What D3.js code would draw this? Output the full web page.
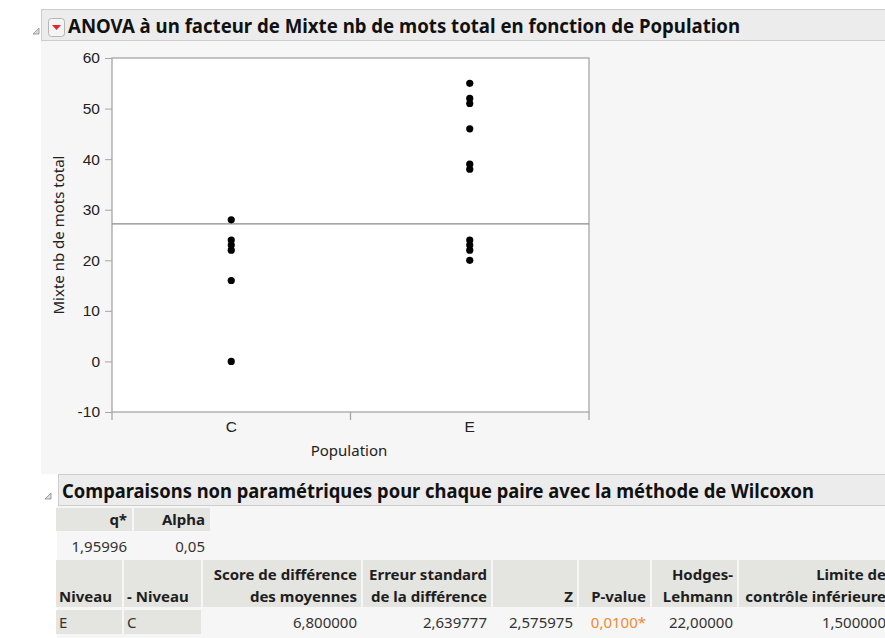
<!DOCTYPE html>
<html>
<head>
<meta charset="utf-8">
<script src="https://cdn.jsdelivr.net/npm/d3@7"></script>
<style>
  body { margin: 0; background: #fff; }
  svg { display: block; font-family: "Noto Sans", "Open Sans", sans-serif; }
</style>
</head>
<body>
<script>
// values
const categories = ['C', 'E']
const valuesC = [28, 24, 23, 22, 16, 0]
const valuesE = [55, 52, 51, 46, 39, 38, 24, 23, 22, 20]
const grandMean = 27.2
const yTicks = [-10, 0, 10, 20, 30, 40, 50, 60]

const title = 'ANOVA à un facteur de Mixte nb de mots total en fonction de Population'
const subTitle = 'Comparaisons non paramétriques pour chaque paire avec la méthode de Wilcoxon'
const yLabel = 'Mixte nb de mots total'
const xLabel = 'Population'

const qHeaders = ['q*', 'Alpha']
const qValues = ['1,95996', '0,05']
const compHeaders = [
    ['', 'Niveau'], ['', '- Niveau'], ['Score de différence', 'des moyennes'],
    ['Erreur standard', 'de la différence'], ['', 'Z'], ['', 'P-value'],
    ['Hodges-', 'Lehmann'], ['Limite de', 'contrôle inférieure']
]
const compRow = ['E', 'C', '6,800000', '2,639777', '2,575975', '0,0100*', '22,00000', '1,500000']

const width = 885
const height = 638

const svg = d3.select('body')
            .append('svg')
            .attr('width', width)
            .attr('height', height)

// grey content areas of the two outline boxes
svg.append('rect').attr('x', 41).attr('y', 40).attr('width', width - 41).attr('height', 434).attr('fill', '#f6f6f6')
svg.append('rect').attr('x', 57).attr('y', 505).attr('width', width - 57).attr('height', height - 505).attr('fill', '#f6f6f6')

function outlineHeader(x, y, triX, text, textX, textW, menu) {
    svg.append('rect')
        .attr('x', x + 0.5).attr('y', y + 0.5)
        .attr('width', width - x + 10).attr('height', 31)
        .attr('fill', '#ececec').attr('stroke', '#cdcdcd')
    // disclosure triangle
    const ty = y + 25
    svg.append('path')
        .attr('d', `M${triX + 6},${ty - 6} L${triX + 6},${ty} L${triX},${ty} Z`)
        .attr('fill', '#dcdcdc').attr('stroke', '#8c8c8c').attr('stroke-width', 0.8)
    if (menu) {
        svg.append('rect')
            .attr('x', x + 7.5).attr('y', y + 9.5).attr('width', 16).attr('height', 18).attr('rx', 3)
            .attr('fill', '#f4f4f4').attr('stroke', '#b5b5b5')
        svg.append('path')
            .attr('d', `M${x + 11},${y + 16} L${x + 20},${y + 16} L${x + 15.5},${y + 21} Z`)
            .attr('fill', '#e3262b')
    }
    svg.append('text')
        .attr('x', textX).attr('y', y + 24)
        .attr('font-size', 19).attr('font-weight', 'bold').attr('fill', '#111')
        .attr('textLength', textW).attr('lengthAdjust', 'spacingAndGlyphs')
        .text(text)
}

outlineHeader(41, 9, 33, title, 68, 672, true)
outlineHeader(58, 474, 45, subTitle, 62, 752, false)

// ---- one-way plot ----
const xScale = d3.scaleBand()
                .domain(categories)
                .range([112, 589])

const yScale = d3.scaleLinear()
                .domain([-10, 60])
                .range([412, 58])

svg.append('rect')
    .attr('x', 112).attr('y', 58)
    .attr('width', 477).attr('height', 354)
    .attr('fill', '#fff').attr('stroke', '#a6a6a6').attr('stroke-width', 1.3)

const yAxis = d3.axisLeft()
                .scale(yScale)
                .tickValues(yTicks)
                .tickFormat((d) => String(d))
                .tickSize(7)
                .tickPadding(5)

const gy = svg.append('g')
    .attr('transform', 'translate(112, 0)')
    .call(yAxis)
gy.select('.domain').remove()
gy.selectAll('.tick line').attr('stroke', '#a6a6a6')
gy.selectAll('.tick text').attr('font-size', 15.5).attr('fill', '#222').attr('font-family', null)

// x ticks sit on the category boundaries
const bounds = categories.map((c) => xScale(c)).concat(xScale.range()[1])
svg.append('g').selectAll('line')
    .data(bounds)
    .join('line')
    .attr('x1', (d) => d).attr('x2', (d) => d)
    .attr('y1', 412).attr('y2', 420)
    .attr('stroke', '#a6a6a6').attr('stroke-width', 1.3)

const xAxis = d3.axisBottom()
                .scale(xScale)
                .tickSize(0)
                .tickPadding(9)

const gx = svg.append('g')
    .attr('transform', 'translate(0, 412)')
    .call(xAxis)
gx.select('.domain').remove()
gx.selectAll('.tick text').attr('font-size', 15.5).attr('fill', '#222').attr('font-family', null)

svg.append('text')
    .attr('x', 349).attr('y', 456)
    .attr('text-anchor', 'middle')
    .attr('font-size', 15).attr('fill', '#222')
    .text(xLabel)

svg.append('text')
    .attr('transform', 'translate(64, 235) rotate(-90)')
    .attr('text-anchor', 'middle')
    .attr('font-size', 15).attr('fill', '#222')
    .text(yLabel)

// grand mean line
svg.append('line')
    .attr('x1', 112).attr('x2', 589)
    .attr('y1', yScale(grandMean)).attr('y2', yScale(grandMean))
    .attr('stroke', '#8a8a8a').attr('stroke-width', 1.2)

const points = [
    ...valuesC.map((v) => ({ cat: 'C', v })),
    ...valuesE.map((v) => ({ cat: 'E', v }))
]

svg.append('g').selectAll('circle')
    .data(points)
    .join('circle')
    .attr('cx', (d) => xScale(d.cat) + xScale.bandwidth() / 2)
    .attr('cy', (d) => yScale(d.v))
    .attr('r', 3.6)
    .attr('fill', '#000')

// ---- tables ----
const cellFill = '#e4e4e0'
const textCol = '#1e1e1e'

const qEdges = [56, 134, 212]
qHeaders.forEach((h, i) => {
    svg.append('rect')
        .attr('x', qEdges[i]).attr('y', 508)
        .attr('width', qEdges[i + 1] - qEdges[i] - 2).attr('height', 23)
        .attr('fill', cellFill)
    svg.append('text')
        .attr('x', qEdges[i + 1] - 7).attr('y', 525)
        .attr('text-anchor', 'end')
        .attr('font-size', 15).attr('font-weight', 'bold').attr('fill', textCol)
        .text(h)
    svg.append('text')
        .attr('x', qEdges[i + 1] - 7).attr('y', 552)
        .attr('text-anchor', 'end')
        .attr('font-size', 15).attr('fill', '#333')
        .text(qValues[i])
})

const cEdges = [56, 124, 203, 363, 493, 579, 652, 739, 892]
compHeaders.forEach((h, i) => {
    const x0 = cEdges[i], x1 = cEdges[i + 1]
    const leftCol = i < 2
    svg.append('rect')
        .attr('x', x0).attr('y', 560)
        .attr('width', x1 - x0 - 2).attr('height', 47)
        .attr('fill', cellFill)
    if (leftCol) {
        svg.append('rect')
            .attr('x', x0).attr('y', 610)
            .attr('width', x1 - x0 - 2).attr('height', 24)
            .attr('fill', cellFill)
    }
    const tx = leftCol ? x0 + 3 : x1 - 6
    const anchor = leftCol ? 'start' : 'end'
    h.forEach((line, k) => {
        svg.append('text')
            .attr('x', tx).attr('y', 580 + k * 22)
            .attr('text-anchor', anchor)
            .attr('font-size', 15).attr('font-weight', 'bold').attr('fill', textCol)
            .text(line)
    })
    svg.append('text')
        .attr('x', tx).attr('y', 628)
        .attr('text-anchor', anchor)
        .attr('font-size', 15)
        .attr('fill', compRow[i].endsWith('*') ? '#f08a30' : '#333')
        .text(compRow[i])
})
</script>
</body>
</html>
